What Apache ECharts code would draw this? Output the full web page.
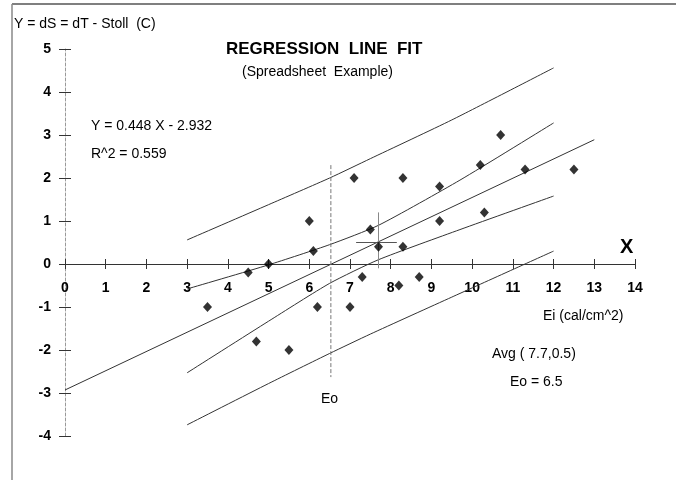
<!DOCTYPE html>
<html>
<head>
<meta charset="utf-8">
<script src="https://cdn.jsdelivr.net/npm/echarts@6/dist/echarts.min.js"></script>
<style>
  html, body { margin: 0; padding: 0; background: #fff; }
  #chart { width: 676px; height: 480px; }
</style>
</head>
<body>
<div id="chart"></div>
<script>
// 数据点 (Ei, dS)
const ptsX = [3.5, 4.5, 5.0, 6.0, 6.1, 6.2, 4.7, 5.5, 7.1, 8.3, 9.2, 10.2, 10.7, 11.3, 12.5, 7.5, 7.7, 8.3, 9.2, 10.3, 7.3, 8.2, 8.7, 7.0];
const ptsY = [-1.0, -0.2, 0.0, 1.0, 0.3, -1.0, -1.8, -2.0, 2.0, 2.0, 1.8, 2.3, 3.0, 2.2, 2.2, 0.8, 0.4, 0.4, 1.0, 1.2, -0.3, -0.5, -0.3, -1.0];

// 回归线
const regX = [0, 13];
const regY = [-2.93, 2.89];

// 置信带 (内)
const innerX = [3, 5, 6.5, 7.7, 9.7, 12];
const innerUp = [-0.58, -0.02, 0.45, 0.9, 1.95, 3.28];
const innerLo = [-2.53, -1.33, -0.45, 0.1, 0.8, 1.58];

// 预测带 (外)
const outerX = [3, 5, 6.5, 7.5, 9.5, 12];
const outerUp = [0.56, 1.38, 2.0, 2.45, 3.35, 4.56];
const outerLo = [-3.74, -2.78, -2.08, -1.63, -0.77, 0.30];

// Eo 竖线 与 平均点十字
const eoX = [6.53, 6.53];
const eoY = [2.3, -2.63];
const avgHX = [7.15, 8.15];
const avgHY = [0.5, 0.5];
const avgVX = [7.7, 7.7];
const avgVY = [-0.1, 1.2];

const FONT = 'Liberation Sans, Arial, sans-serif';

function pairs(xs, ys) {
    return xs.map((x, i) => [x, ys[i]]);
}

function thinLine(name, data, extra) {
    return Object.assign({
        name: name,
        type: 'line',
        data: data,
        symbol: 'none',
        smooth: 0.2,
        silent: true,
        lineStyle: { color: '#333', width: 1 },
        z: 2
    }, extra || {});
}

const chart = echarts.init(document.getElementById('chart'));

const option = {
    animation: false,
    backgroundColor: '#fff',
    grid: [
        // 绘图区
        { left: 65, right: 41, top: 49, bottom: 44, containLabel: false },
        // X 轴放在 y=0 处: 该网格底边正好落在零线上
        { left: 65, right: 41, top: 49, bottom: 216, containLabel: false }
    ],
    xAxis: [
        {
            type: 'value', gridIndex: 0, min: 0, max: 14, interval: 1, show: false
        },
        {
            type: 'value', gridIndex: 1, min: 0, max: 14, interval: 1, position: 'bottom',
            axisLine: { onZero: false, lineStyle: { color: '#333', width: 1 } },
            axisTick: { show: true, length: 5, lineStyle: { color: '#333' } },
            axisLabel: { color: '#000', fontFamily: FONT, fontSize: 14, fontWeight: 'bold', margin: 17 },
            splitLine: { show: false }
        },
        {
            type: 'value', gridIndex: 1, min: 0, max: 14, interval: 1, position: 'bottom',
            axisLine: { show: false, onZero: false },
            axisTick: { show: true, inside: true, length: 5, lineStyle: { color: '#333' } },
            axisLabel: { show: false },
            splitLine: { show: false }
        }
    ],
    yAxis: [
        {
            type: 'value', gridIndex: 0, min: -4, max: 5, interval: 1,
            axisLine: { onZero: false, lineStyle: { color: '#999', width: 1, type: [3, 2] } },
            axisTick: { show: true, length: 6, lineStyle: { color: '#333' } },
            axisLabel: { color: '#000', fontFamily: FONT, fontSize: 14, fontWeight: 'bold', margin: 14 },
            splitLine: { show: false }
        },
        {
            type: 'value', gridIndex: 0, min: -4, max: 5, interval: 1, position: 'left',
            axisLine: { show: false, onZero: false },
            axisTick: { show: true, inside: true, length: 6, lineStyle: { color: '#333' } },
            axisLabel: { show: false },
            splitLine: { show: false }
        },
        {
            type: 'value', gridIndex: 1, min: 0, max: 1, show: false
        }
    ],
    series: [
        thinLine('outerUp', pairs(outerX, outerUp)),
        thinLine('outerLo', pairs(outerX, outerLo)),
        thinLine('innerUp', pairs(innerX, innerUp)),
        thinLine('innerLo', pairs(innerX, innerLo)),
        thinLine('reg', pairs(regX, regY), { smooth: false }),
        thinLine('eo', pairs(eoX, eoY), { smooth: false, lineStyle: { color: '#777', width: 1, type: [4, 2] } }),
        thinLine('avgH', pairs(avgHX, avgHY), { smooth: false, lineStyle: { color: '#555', width: 1.2 } }),
        thinLine('avgV', pairs(avgVX, avgVY), { smooth: false, lineStyle: { color: '#888', width: 1 } }),
        {
            name: 'data',
            type: 'scatter',
            data: pairs(ptsX, ptsY),
            symbol: 'diamond',
            symbolSize: [9, 10],
            itemStyle: { color: '#000' },
            z: 5
        }
    ],
    graphic: [
        // 外框
        { type: 'line', shape: { x1: 12, y1: 4, x2: 676, y2: 4 }, style: { stroke: '#555', lineWidth: 1.5 } },
        { type: 'line', shape: { x1: 12, y1: 4, x2: 12, y2: 480 }, style: { stroke: '#888', lineWidth: 1.5 } },
        { type: 'text', left: 14, top: 17, style: { text: 'Y = dS = dT - Stoll  (C)', font: '14px ' + FONT, fill: '#000' } },
        { type: 'text', left: 226, top: 41, style: { text: 'REGRESSION  LINE  FIT', font: 'bold 17px ' + FONT, fill: '#000' } },
        { type: 'text', left: 242, top: 65, style: { text: '(Spreadsheet  Example)', font: '14px ' + FONT, fill: '#000' } },
        { type: 'text', left: 91, top: 119, style: { text: 'Y = 0.448 X - 2.932', font: '14px ' + FONT, fill: '#000' } },
        { type: 'text', left: 91, top: 147, style: { text: 'R^2 = 0.559', font: '14px ' + FONT, fill: '#000' } },
        { type: 'text', left: 620, top: 237, style: { text: 'X', font: 'bold 20px ' + FONT, fill: '#000' } },
        { type: 'text', left: 543, top: 309, style: { text: 'Ei (cal/cm^2)', font: '14px ' + FONT, fill: '#000' } },
        { type: 'text', left: 492, top: 347, style: { text: 'Avg ( 7.7,0.5)', font: '14px ' + FONT, fill: '#000' } },
        { type: 'text', left: 510, top: 375, style: { text: 'Eo = 6.5', font: '14px ' + FONT, fill: '#000' } },
        { type: 'text', left: 321, top: 392, style: { text: 'Eo', font: '14px ' + FONT, fill: '#000' } }
    ]
};

chart.setOption(option);
</script>
</body>
</html>
